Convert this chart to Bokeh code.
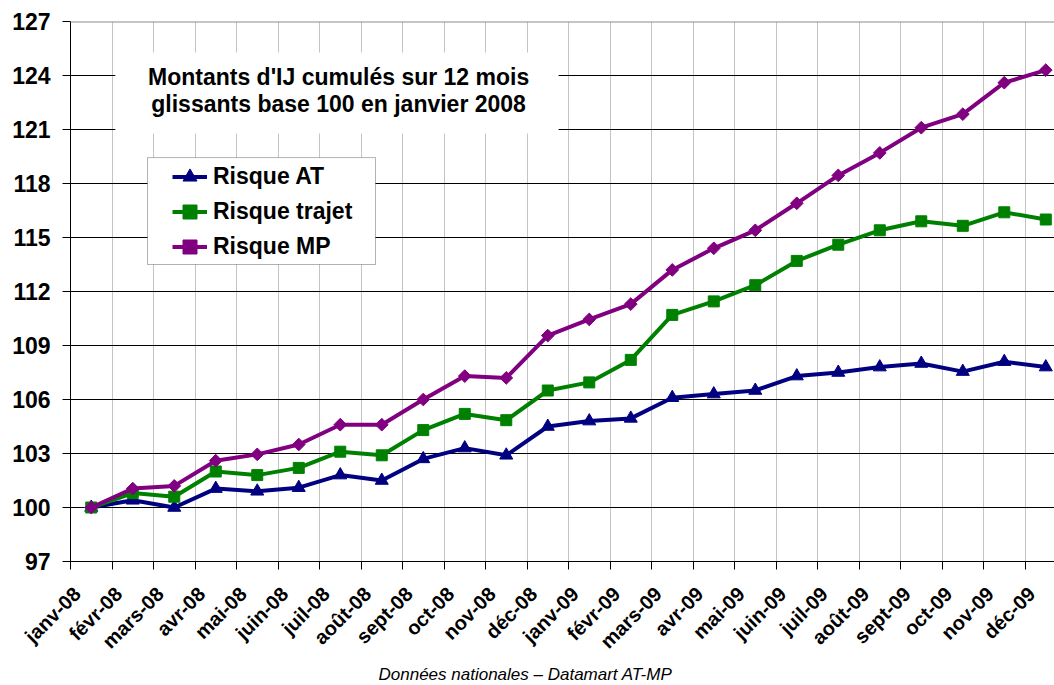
from math import pi
from bokeh.plotting import figure
from bokeh.models import (Range1d, FixedTicker, Legend, LegendItem, BoxAnnotation,
                          Label, Span, Title, CustomJSTickFormatter)
from bokeh.embed import file_html
from bokeh.resources import INLINE

months = ["janv-08", "févr-08", "mars-08", "avr-08", "mai-08", "juin-08", "juil-08",
          "août-08", "sept-08", "oct-08", "nov-08", "déc-08", "janv-09", "févr-09",
          "mars-09", "avr-09", "mai-09", "juin-09", "juil-09", "août-09", "sept-09",
          "oct-09", "nov-09", "déc-09"]

risque_at = [100.0, 100.4, 100.0, 101.05, 100.9, 101.1, 101.8, 101.5, 102.7, 103.3,
             102.9, 104.5, 104.8, 104.95, 106.1, 106.3, 106.5, 107.3, 107.5, 107.8,
             108.0, 107.55, 108.1, 107.8]
risque_trajet = [100.0, 100.8, 100.6, 102.0, 101.8, 102.2, 103.1, 102.9, 104.3, 105.2,
                 104.85, 106.5, 106.95, 108.2, 110.7, 111.45, 112.35, 113.7, 114.6,
                 115.4, 115.9, 115.65, 116.4, 116.0]
risque_mp = [100.0, 101.05, 101.2, 102.6, 102.95, 103.5, 104.6, 104.6, 106.0, 107.3,
             107.2, 109.55, 110.45, 111.3, 113.2, 114.4, 115.4, 116.9, 118.45, 119.7,
             121.1, 121.85, 123.6, 124.3]

series_labels = ["Risque AT", "Risque trajet", "Risque MP"]
y_ticks = [97, 100, 103, 106, 109, 112, 115, 118, 121, 124, 127]

annotation_lines = ["Montants d'IJ cumulés sur 12 mois",
                    "glissants base 100 en janvier 2008"]
footer = "Données nationales – Datamart AT-MP"

FONT = "Liberation Sans"
LABEL_SHIFT = 0.34   # rotated tick labels sit slightly left of their category
x = list(range(len(months)))
boundaries = [i - 0.5 for i in x] + [x[-1] + 0.5]

p = figure(frame_width=984, frame_height=540, output_backend="svg",
           toolbar_location=None,
           x_range=Range1d(-0.5, 23.21), y_range=Range1d(97, 127),
           min_border_left=70, min_border_right=0, min_border_top=21,
           min_border_bottom=122)
p.outline_line_color = None
p.background_fill_color = "white"

# axes
p.yaxis.ticker = FixedTicker(ticks=y_ticks)
p.yaxis.major_label_text_font = FONT
p.yaxis.major_label_text_font_size = "23px"
p.yaxis.major_label_text_font_style = "bold"
p.yaxis.major_label_text_color = "black"
p.yaxis.major_tick_out = 8
p.yaxis.major_tick_in = 0
p.yaxis.minor_tick_line_color = None
p.yaxis.major_label_standoff = 12
p.yaxis.axis_line_color = "black"
p.yaxis.major_tick_line_color = "black"

p.xaxis.ticker = FixedTicker(ticks=[i - LABEL_SHIFT for i in x], minor_ticks=boundaries)
p.xaxis.formatter = CustomJSTickFormatter(
    args=dict(labels=months, shift=LABEL_SHIFT),
    code="const i = Math.round(tick + shift); return (i >= 0 && i < labels.length) ? labels[i] : '';")
p.xaxis.major_label_orientation = pi / 4
p.xaxis.major_label_text_font = FONT
p.xaxis.major_label_text_font_size = "20px"
p.xaxis.major_label_text_font_style = "bold"
p.xaxis.major_label_text_color = "black"
p.xaxis.major_tick_line_color = None
p.xaxis.minor_tick_out = 8
p.xaxis.minor_tick_in = 0
p.xaxis.minor_tick_line_color = "black"
p.xaxis.axis_line_color = "black"
p.xaxis.major_label_standoff = 21

# grids
p.xgrid.grid_line_color = None
p.xgrid.minor_grid_line_color = "#c4c4c4"
p.xgrid.minor_grid_line_width = 1
p.ygrid.grid_line_color = "black"
p.ygrid.grid_line_width = 1

p.add_layout(Span(location=127, dimension="width", line_color="#8c8c8c", line_width=2))

# series
colors = ["#000080", "#008000", "#800080"]
items = []
for label, vals, col, marker, size, ang in [
        (series_labels[0], risque_at, colors[0], "triangle", 13, 0),
        (series_labels[1], risque_trajet, colors[1], "square", 11, 0),
        (series_labels[2], risque_mp, colors[2], "square", 9, pi / 4)]:
    lr = p.line(x, vals, line_color=col, line_width=4)
    sr = p.scatter(x, vals, marker=marker, size=size, angle=ang,
                   fill_color=col, line_color=col)
    items.append(LegendItem(label=label, renderers=[lr, sr]))

# annotation box with text
p.add_layout(BoxAnnotation(left=0.58, right=11.26, top=125.28, bottom=120.78,
                           fill_color="white", fill_alpha=1, line_color=None))
for txt, yy in zip(annotation_lines, [123.9, 122.42]):
    p.add_layout(Label(x=5.96, y=yy, text=txt, text_align="center",
                       text_baseline="alphabetic", text_font=FONT,
                       text_font_size="23px", text_font_style="bold",
                       text_color="black"))

# legend box
p.add_layout(BoxAnnotation(left=1.355, right=6.849, top=119.44, bottom=113.5,
                           fill_color="white", fill_alpha=1, line_color="black",
                           line_width=1))
legend = Legend(items=items, location=(102, 297), border_line_color=None,
                background_fill_alpha=0, padding=0, margin=0, spacing=0,
                glyph_width=35, glyph_height=35, label_height=35, label_standoff=6,
                label_text_font=FONT, label_text_font_size="23px",
                label_text_font_style="bold", label_text_color="black")
p.add_layout(legend)

# footer (below the plot area)
p.add_layout(Title(text=footer, align="left", offset=308, vertical_align="top",
                   standoff=2, text_font=FONT, text_font_size="17px",
                   text_font_style="italic", text_color="black"), "below")

open("out.html", "w").write(file_html(p, INLINE))
